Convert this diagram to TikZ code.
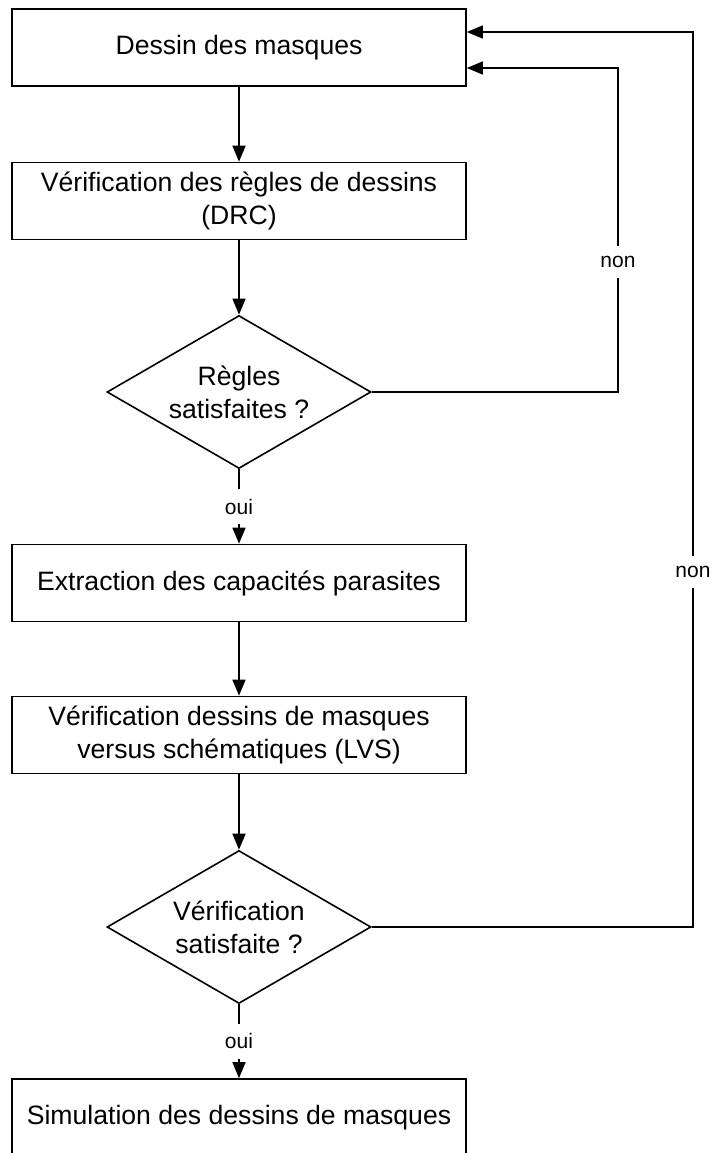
\documentclass[tikz,border=0pt]{standalone}
\usepackage{fontspec}
\setmainfont{Liberation Sans}
\usetikzlibrary{shapes.geometric,arrows.meta,calc}
\begin{document}
\begin{tikzpicture}[x=0.5pt,y=-0.5pt,
  font=\fontsize{13.3}{16.5}\selectfont,
  stepbox/.style={draw,line width=0.8pt,minimum width=227pt,minimum height=38.5pt,
    align=center,inner sep=0pt},
  decision/.style={draw,line width=0.8pt,diamond,aspect=1.73,minimum width=132pt,
    minimum height=76.5pt,align=center,inner sep=0pt},
  flow/.style={line width=0.7pt,-{Triangle[length=8pt,width=6.5pt]}},
  lbl/.style={fill=white,font=\fontsize{10.5}{12}\selectfont,inner xsep=2pt,inner ysep=5pt}]
\useasboundingbox (0,0) rectangle (713,1153);
\clip (0,0) rectangle (713,1153);

% process steps and decisions
\node[stepbox]  (b1) at (239,47.5)   {Dessin des masques};
\node[stepbox]  (b2) at (239,201)    {Vérification des règles de dessins\\(DRC)};
\node[decision] (d1) at (239,392)    {Règles\\satisfaites ?};
\node[stepbox]  (b3) at (239,583)    {Extraction des capacités parasites};
\node[stepbox]  (b4) at (239,735)    {Vérification dessins de masques\\versus schématiques (LVS)};
\node[decision] (d2) at (239,927)    {Vérification\\satisfaite ?};
\node[stepbox]  (b5) at (239,1117.5) {Simulation des dessins de masques};

% main flow
\draw[flow] (b1) -- (b2);
\draw[flow] (b2) -- (d1);
\draw[flow] (d1) -- node[lbl] (o1) {oui} (b3);
\draw[flow] (b3) -- (b4);
\draw[flow] (b4) -- (d2);
\draw[flow] (d2) -- node[lbl] (o2) {oui} (b5);

% feedback loops back to the mask drawing
\coordinate (k1) at (618,68);
\coordinate (k2) at (693,32);
\draw[flow] (d1.east) -| (k1) -- (b1.east |- k1);
\draw[flow] (d2.east) -| (k2) -- (b1.east |- k2);
\node[lbl] (n1) at (618,262) {non};
\node[lbl] (n2) at (693,572) {non};
\end{tikzpicture}
\end{document}
